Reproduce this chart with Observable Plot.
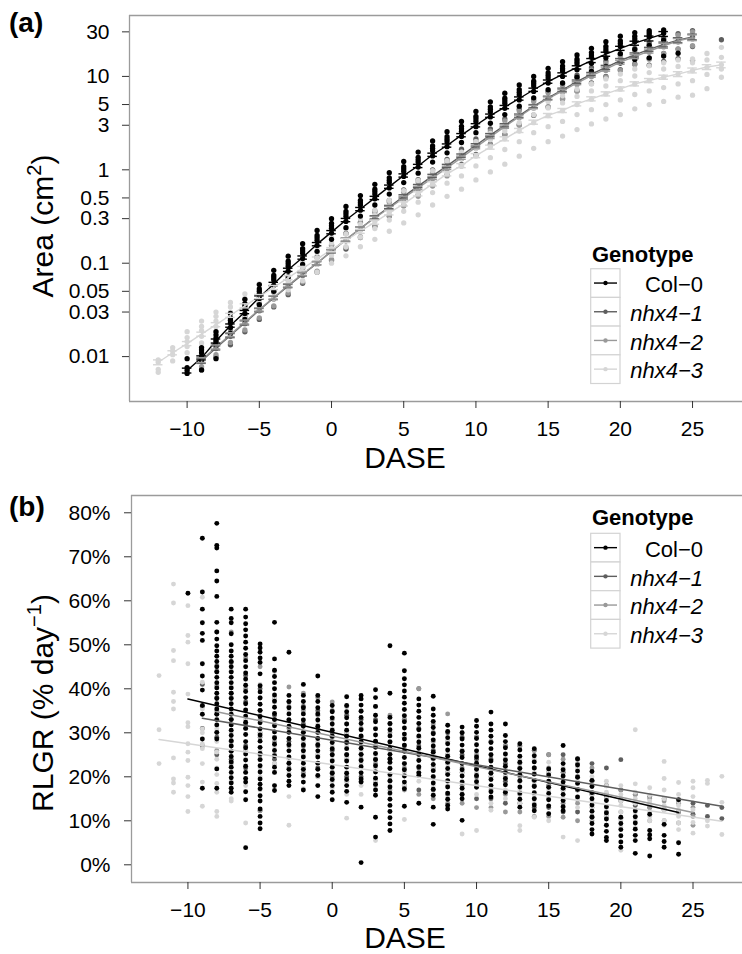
<!DOCTYPE html>
<html><head><meta charset="utf-8">
<script src="https://cdn.jsdelivr.net/npm/d3@7"></script>
<script src="https://cdn.jsdelivr.net/npm/@observablehq/plot@0.6"></script>
<style>
html,body{margin:0;padding:0;background:#fff;}
#root{position:relative;width:742px;height:954px;overflow:hidden;font-family:"Liberation Sans",Arial,sans-serif;}
#root svg{position:absolute;left:0;}
</style></head><body><div id="root"></div>
<script>
// ---------- categories / labels ----------
const genotypes = ["Col-0","nhx4-1","nhx4-2","nhx4-3"];
const genoLabels = ["Col\u22120","nhx4\u22121","nhx4\u22122","nhx4\u22123"];
const genoColors = ["#000000","#5e5e5e","#999999","#d6d6d6"];
const daseTicks = [-10,-5,0,5,10,15,20,25];
const areaTicks = [0.01,0.03,0.05,0.1,0.3,0.5,1,3,5,10,30];
const rlgrTicks = [0,10,20,30,40,50,60,70,80];

// ---------- panel (a): mean rosette area (cm2) per day ----------
const areaMeanStart = [-10,-9,-9,-12];
const areaMeanCol0 = [0.0071,0.0097,0.0147,0.0215,0.030,0.043,0.060,0.085,0.115,0.16,0.215,0.29,0.38,0.50,0.66,0.87,1.1,1.45,1.82,2.35,3.0,3.8,4.7,5.8,7.2,8.8,10.5,12.5,14.8,17.3,20.0,22.7,25.5,28.5];
const areaMeanNhx41 = [0.0090,0.0124,0.0168,0.023,0.0315,0.0425,0.057,0.076,0.10,0.134,0.178,0.235,0.31,0.40,0.52,0.67,0.86,1.1,1.42,1.83,2.35,3.0,3.8,4.8,5.9,7.2,8.8,10.6,12.5,14.8,17.0,19.5,22.0,24.5,26.5];
const areaMeanNhx42 = [0.0092,0.0127,0.0172,0.0235,0.032,0.043,0.058,0.077,0.10,0.135,0.18,0.235,0.305,0.39,0.50,0.64,0.82,1.05,1.35,1.75,2.25,2.9,3.7,4.7,5.8,7.0,8.5,10.2,12.0,14.2,16.3,18.7,21.3,24.0,26.0];
const areaMeanNhx43 = [0.0087,0.011,0.0138,0.0174,0.022,0.0277,0.035,0.044,0.055,0.070,0.088,0.111,0.14,0.175,0.22,0.275,0.346,0.432,0.553,0.708,0.906,1.11,1.42,1.75,2.15,2.64,3.24,3.82,4.32,5.09,5.76,6.51,7.36,8.33,9.04,9.82,10.6,11.6,12.6,13.3];
// standard error of the mean, % of mean
const areaSeCol0 = [6,5,5,4,4,4,4,4,4,4,4,4,4,4,4,4,4,4,4,4,4,4,4,4,4,4,4,4,5,5,5,5,6,6];
const areaSeNhx41 = [6,5,5,5,4,4,4,4,4,4,4,4,4,4,4,4,4,4,4,4,4,4,4,4,4,4,4,4,5,5,5,5,6,6,7];
const areaSeNhx42 = [6,5,5,5,4,4,4,4,4,4,4,4,4,4,4,4,4,4,4,4,4,4,4,4,4,4,4,4,5,5,5,5,6,6,7];
const areaSeNhx43 = [6,5,5,5,5,5,5,5,5,5,5,5,5,5,5,5,5,5,5,5,5,5,5,5,5,5,5,5,5,5,5,5,5,5,5,5,6,6,6,7];

// ---------- panel (a): individual plants ----------
const areaPtsStart = [-10,-9,-9,-12];
const areaPtsCol0 = [
[0.0066,0.0071,0.0076,0.0095],[0.0072,0.0092,0.0100,0.0110,0.0118,0.0125],[0.0095,0.0132,0.0148,0.0158,0.0170,0.0185],
[0.0178,0.0205,0.023,0.0245,0.026,0.029],[0.025,0.029,0.033,0.035,0.037,0.041],[0.036,0.042,0.047,0.050,0.053,0.059],
[0.050,0.058,0.066,0.070,0.074,0.084],[0.071,0.082,0.093,0.099,0.105,0.119],[0.097,0.112,0.127,0.135,0.143,0.162],
[0.134,0.155,0.176,0.187,0.198,0.224],[0.18,0.21,0.237,0.252,0.267,0.30],[0.24,0.28,0.318,0.338,0.358,0.405],
[0.32,0.37,0.42,0.445,0.47,0.53],[0.42,0.49,0.55,0.585,0.62,0.70],[0.55,0.64,0.73,0.775,0.82,0.93],
[0.73,0.85,0.96,1.02,1.08,1.23],[0.92,1.07,1.21,1.28,1.36,1.55],[1.21,1.41,1.6,1.7,1.8,2.04],
[1.52,1.77,2.0,2.13,2.26,2.56],[1.96,2.28,2.58,2.75,2.92,3.3],[2.5,2.9,3.3,3.52,3.74,4.22],
[3.15,3.68,4.18,4.45,4.72,5.35],[3.9,4.55,5.17,5.5,5.85,6.6],[4.8,5.6,6.35,6.75,7.2,8.1],
[5.9,6.9,7.9,8.4,8.9,10.0],[7.2,8.5,9.6,10.2,10.9,12.2],[8.5,10.0,11.4,12.1,12.9,14.4],
[9.8,11.8,13.6,14.4,15.3,17.0],[11.3,13.8,16.0,17.0,18.0,20.0],[12.8,15.8,18.5,19.7,21.0,23.5],
[14.0,17.5,21.0,22.5,24.0,27.0],[15.2,19.5,23.5,25.2,27.0,29.5],[15.8,21.5,26.5,28.0,29.5,31.0],
[16.5,24.5,29.0,31.5],[17.7]];
const areaPtsNhx41 = [
[0.0072,0.0088,0.0105],[0.0099,0.0122,0.0145],[0.0134,0.0165,0.0197],[0.0184,0.0225,0.027],
[0.025,0.031,0.037],[0.034,0.0415,0.05],[0.046,0.056,0.067],[0.061,0.074,0.089],
[0.08,0.098,0.117],[0.107,0.131,0.157],[0.142,0.174,0.208],[0.188,0.23,0.275],
[0.248,0.304,0.363],[0.32,0.39,0.47],[0.416,0.51,0.61],[0.536,0.656,0.784],
[0.69,0.84,1.0],[0.88,1.08,1.29],[1.14,1.39,1.66],[1.46,1.79,2.14],
[1.88,2.3,2.75],[2.4,2.94,3.5],[3.04,3.72,4.45],[3.84,4.7,5.6],
[4.7,5.8,6.9],[5.8,7.05,8.4],[7.0,8.6,10.3],[8.5,10.4,12.4],
[10.0,12.2,14.6],[11.8,14.5,17.3],[13.6,16.7,19.9],[13.2,15.6,19.1,22.8],
[14.5,17.6,21.6,25.7],[15.5,19.6,24.0,28.7],[14.8,20.9,26.5,31.0],[],[24.7]];
const areaPtsNhx42 = [
[0.0078,0.0090,0.0105],[0.0105,0.0124,0.0146],[0.0142,0.0168,0.0198],[0.0193,0.0228,0.027],
[0.026,0.031,0.037],[0.035,0.042,0.049],[0.048,0.056,0.067],[0.063,0.075,0.089],
[0.082,0.097,0.115],[0.11,0.131,0.155],[0.148,0.175,0.207],[0.193,0.228,0.27],
[0.25,0.296,0.35],[0.32,0.38,0.45],[0.41,0.485,0.575],[0.52,0.62,0.74],
[0.67,0.80,0.94],[0.86,1.02,1.21],[1.1,1.31,1.55],[1.43,1.7,2.0],
[1.85,2.18,2.6],[2.38,2.8,3.35],[3.0,3.6,4.25],[3.85,4.55,5.4],
[4.75,5.6,6.7],[5.7,6.8,8.0],[7.0,8.2,9.8],[8.4,9.9,11.7],
[9.8,11.6,13.8],[11.6,13.8,16.3],[13.4,15.8,18.7],[15.3,18.1,21.5],
[17.5,20.7,24.5],[19.7,23.3,27.6],[21.3,25.2,29.9]];
const areaPtsNhx43 = [
[0.0068,0.0073,0.0087,0.0092],[0.0090,0.0105,0.0115,0.0125],[0.011,0.0128,0.0145,0.016,0.0185],
[0.014,0.0165,0.019,0.021,0.024],[0.018,0.021,0.024,0.027,0.030],[0.022,0.026,0.030,0.034,0.038],
[0.027,0.032,0.037,0.042,0.047],[0.034,0.040,0.046,0.053,0.060],[0.042,0.050,0.058,0.066,0.075],
[0.052,0.063,0.073,0.084,0.095],[0.065,0.078,0.091,0.104,0.118],[0.080,0.097,0.114,0.130,0.148],
[0.10,0.122,0.143,0.165,0.19],[0.12,0.15,0.178,0.205,0.235],[0.15,0.19,0.225,0.26,0.30],
[0.18,0.235,0.28,0.325,0.37],[0.22,0.29,0.35,0.41,0.47],[0.27,0.36,0.44,0.52,0.60],
[0.33,0.45,0.56,0.66,0.77],[0.42,0.57,0.71,0.85,0.98],[0.52,0.72,0.91,1.08,1.25],
[0.62,0.86,1.10,1.33,1.55],[0.78,1.10,1.40,1.70,2.0],[0.95,1.35,1.75,2.10,2.45],
[1.15,1.65,2.15,2.60,3.0],[1.4,2.0,2.6,3.2,3.7],[1.7,2.5,3.2,3.9,4.6],
[2.0,2.9,3.8,4.6,5.4],[2.3,3.3,4.3,5.2,6.2],[2.7,3.9,5.0,6.1,7.3],
[3.1,4.4,5.7,7.0,8.3],[3.5,5.0,6.5,7.9,9.4],[3.9,5.6,7.3,9.0,10.6],
[4.5,6.4,8.3,10.1,12.0],[5.0,7.0,9.0,11.0,13.0],[5.4,7.6,9.8,12.0,14.0],
[6.0,8.3,10.6,12.8,15.0],[6.3,9.0,11.5,14.0,15.4],[7.4,10.5,12.5,15.0,17.6],
[9.8,12.0,13.3,16.0,20.5]];

// ---------- panel (b): RLGR (% per day) of individual plants ----------
const rlgrPtsStart = [-10,-9,-8,-12];
const rlgrPtsCol0 = [
[61.7],
[74.2,62.0,58.1,55.0,52.6,51.0,45.7,42.9,39.7,36.2,34.2,28.6,17.4],
[77.6,72.6,72.0,66.8,64.5,61.0,55.1,52.9,51.3,49.8,48.6,47.4,46.2,45.0,43.8,42.6,41.4,40.2,39.0,37.8,36.6,35.4,34.2,33.0,31.8,30.1,28.6,21.8,17.4],
[58.1,56.0,55.0,52.5,50.0,48.6,47.4,46.2,45.0,43.8,42.6,41.4,40.2,39.0,37.8,36.6,35.4,34.2,33.0,31.8,30.6,29.4,28.2,27.0,25.8,24.6,23.4,22.2,21.0,19.8,18.6,17.4,16.5],
[58.1,56.3,54.8,53.4,52.0,50.6,49.2,47.8,46.4,45.0,43.6,42.2,40.8,39.4,38.0,36.6,35.2,33.8,32.4,31.0,29.6,28.0,26.6,25.2,23.8,22.4,21.0,19.6,18.8,16.6,14.8,3.9],
[50.2,49.3,48.3,47.0,46.0,43.4,40.7,39.3,37.9,36.5,35.1,33.7,32.3,30.9,29.5,28.1,26.7,25.3,23.9,22.5,21.1,19.5,18.3,17.3,15.7,14.5,12.7,11.0,9.5,8.2],
[55.1,46.8,44.2,42.8,41.4,40.0,38.6,37.2,35.8,34.4,33.0,31.6,30.2,28.8,27.4,26.0,24.8,22.2,21.0,18.0,16.9],
[48.3,38.5,37.1,35.7,34.3,32.9,31.5,30.1,28.7,27.3,25.9,24.5,23.1,21.7,20.3,19.0,18.0],
[41.0,38.5,37.1,35.7,34.3,32.9,31.5,30.1,28.7,27.3,25.9,24.5,23.1,21.7,20.3,18.8,17.0],
[42.9,38.5,37.1,35.7,34.3,32.9,31.5,30.1,28.7,27.3,25.9,24.5,23.1,21.7,20.3,18.0,15.5],
[36.2,34.8,33.4,32.0,30.6,29.2,27.8,26.4,25.0,23.6,22.2,20.8,19.4,18.0,16.5,14.8],
[38.2,36.2,34.8,33.4,32.0,30.6,29.2,27.8,26.4,25.0,23.6,22.2,20.8,19.4,18.0,16.7,14.2],
[38.5,37.7,36.3,34.9,33.5,32.1,30.7,29.3,27.9,26.5,25.1,23.7,22.3,20.9,19.5,18.8,13.1,0.5],
[39.8,38.0,36.0,34.0,32.5,30.9,29.5,28.1,26.7,25.3,23.9,22.5,21.1,19.7,18.3,17.0,15.8,10.8,6.3],
[49.8,39.0,33.5,32.1,30.7,29.3,27.9,26.5,25.1,24.1,23.3,21.9,20.5,19.1,17.7,16.3,14.9,13.5,12.1,10.7,9.3,7.8],
[48.1,44.1,42.3,40.9,39.5,38.1,36.7,35.3,33.9,32.5,31.1,29.7,28.6,27.2,25.8,24.4,23.0,21.6,20.2,18.8,17.3,13.3],
[37.7,36.3,34.9,33.5,32.1,30.7,29.3,27.9,26.5,25.1,23.7,22.3,20.9,20.3,14.0],
[38.3,35.4,34.0,32.6,31.2,29.8,28.4,27.0,25.6,24.2,22.8,21.4,20.0,18.6,17.2,15.8,13.1,9.2],
[31.7,30.3,28.9,27.5,26.1,24.7,23.3,21.9,20.5,19.1,17.7,16.3,14.9,13.5,12.7],
[31.3,30.0,28.6,27.2,25.8,24.4,23.0,21.6,20.2,18.8,17.4,16.0,15.0,10.1],
[32.8,31.5,30.1,28.7,27.3,25.9,24.5,23.1,21.7,20.3,18.9,17.6],
[34.7,32.0,30.6,29.2,27.8,26.4,25.0,23.6,22.2,20.8,19.4,18.0,16.6,15.4],
[32.0,29.4,28.0,26.6,25.2,23.8,22.4,21.0,19.6,18.2,16.5],
[27.5,26.1,24.7,23.3,21.9,20.5,19.1,17.7,16.3,14.9,13.1],
[26.4,24.8,23.4,22.0,20.6,19.2,17.8,16.4,15.0,13.6,12.3],
[21.8,20.4,19.0,17.6,16.2,14.8,13.4,11.6],
[27.1,23.0,21.6,20.2,18.8,17.4,16.0,14.6,13.2,12.3],
[24.1,22.7,21.3,19.9,18.5,17.1,15.4],
[21.2,19.2,17.8,16.4,15.0,13.6,12.2,10.8,9.4,8.0,7.0],
[14.6,13.2,11.8,10.4,9.0,7.6,6.2,5.5],
[10.8,9.4,8.0,6.6,5.2,4.0],
[12.3,10.9,9.5,8.1,6.7,5.5,2.6],
[11.5,7.8,6.8,5.9,2.0],
[9.2,6.7,5.3,4.0],
[14.8,5.0,2.4]];
const rlgrPtsNhx41 = [
[41,36,31,27],[44,38,34.3,29,25],[46,39,33,28,24],[43,37,32,27,22],[40,35,30,25,12.3],
[38,34,29,24],[37,33,28,23],[36,32,27,22],[35,31,27,22],[35,30,26,21],
[34,30,25,20],[33,29,25,20],[33,28,24,19],[32,28,24,19],[33,27,23,18],
[40,31,27,22,17],[30,26,22,17],[30,25,21,16],[29,25,21,16],[29,24,20,15],
[28,24,20,15],[27,23,19,14],[27,22,19,14],[26,22,18,13],[25,21,18,13],
[25,21,17,12],[24,20,17,12],[23,19,16,11],[22,18,15.5,11],[23.9,17,14.5,10.5],
[16,13.5],[15.5,13],[15,12.5],[14.5,12],[14,11.5],
[13.5,11],[13,10.5]];
const rlgrPtsNhx42 = [
[52.9,45.3,40.7,35,30,26],[52.9,44,38,33,28,23],[47,40,35,31,26],[45,38,33,29,24,12.3],
[44,37,33,28,23],[40.4,36,31,27,22],[39,35,30,26,21],[38,34,30,25,20],
[37,33,29,25,20],[36,32,28,24,19],[35,31,28,24,19],[36,31,27,23,18],
[34,30,26,22,17],[33,29,26,22,17],[40,29,25,21,16],[32,28,24,20,15],
[34.3,28,23,19,14],[30,26,22,18,14],[29,25,22,18,13],[28,25,21,17,13],
[27,24,20,16,12],[27,23,20,16,12],[26,22,19,15,11],[25,22,18,15,11],
[24,21,18,14,10.8],[23,20,17,14,10],[22,19,16,13,10],[18,16,12],
[17,15,12],[16,14,11],[15,13,10],[14.5,12.5,10],
[14,12,9.5],[13,11,9]];
const rlgrPtsNhx43 = [
[43.0,30.7,23.0],
[63.8,59.5,48.7,46.4,39.2,37.1,35.4,24.3,19.5,18.6,16.5],
[58.9,52.1,50.6,45.7,38.8,32.3,31.4,27.5,25.6,23.7,19.9,18.0,15.5,12.1],
[60.8,41.5,35.4,30.9,30.0,27.5,26.4,23.0,18.8,13.3],
[36.0,30.9,28.0,25.6,24.0,22.0,20.5,18.5,16.5,12.1,11.0],
[40.5,35.0,30.0,27.0,25.8,22.0,19.0,17.5,15.0,14.5],
[42.0,33.0,28.0,26.0,24.0,22.5,21.0,18.0,9.5],
[41.0,34.0,30.0,26.0,24.0,22.0,20.0,17.0],
[38.0,32.0,27.0,25.0,23.0,21.0,18.0],
[35.0,30.0,26.0,24.0,21.0,19.0,15.5,9.0],
[33.0,28.0,25.0,22.0,20.0,17.3],
[32.0,28.0,25.0,23.0,20.0,18.0],
[31.0,27.0,24.0,22.0,19.0,17.5],
[30.0,27.0,24.0,21.0,19.0,16.0,10.6],
[29.0,26.0,23.0,21.0,18.0,16.0],
[31.0,27.0,25.0,22.0,19.0,17.0,5.5],
[28.0,26.0,23.0,20.0,18.0,16.0],
[29.0,26.0,23.0,21.0,18.0,10.3],
[29.0,26.0,24.0,21.0,19.0,14.0],
[27.0,25.0,22.0,20.0,18.0,16.0],
[28.0,25.0,23.0,21.0,18.0,15.0],
[26.0,23.0,21.0,19.0,17.0,7.0],
[26.0,23.0,21.0,19.0,16.0,7.8],
[25.0,22.0,20.0,18.0,14.0,12.4],
[25.0,22.0,20.0,17.0,15.0],
[24.0,22.0,19.0,17.0,14.0,8.9,7.8],
[24.0,21.0,19.0,16.0,14.0,10.8],
[23.3,21.0,19.0,17.0,15.0,10.0],
[22.0,20.0,17.0,15.0,13.0,6.3],
[22.0,19.0,17.0,15.0,13.0,5.5],
[20.0,18.0,16.0,14.5,13.1,12.0,10.5],
[19.0,17.9,16.5,15.0,13.0,11.0,9.0],
[18.0,16.0,14.5,13.5,12.0,10.0,8.5,3.3],
[30.7,18.4,16.5,15.0,14.0,12.0,10.0,8.5],
[17.5,15.8,14.5,14.0,12.0,11.0,10.0],
[23.5,19.6,17.0,15.0,13.5,12.4,10.0,9.0],
[18.7,16.0,14.5,13.5,12.5,11.0,9.5,8.0],
[19.0,17.5,15.5,12.5,9.6,7.2],
[19.2,18.5,10.0,8.8],
[20.1,14.2,6.9]];

// ---------- panel (b): fitted linear trends ----------
const fitX0 = [-10,-9,-8,-12];
const fitX1 = [24,27,25,27];
const fitY0 = [37.7,33.3,34.8,28.5];
const fitY1 = [11.9,13.3,11.9,9.9];

// ---------- build tables ----------
function flat(lists, starts, order){
  const rows = [];
  order.forEach(gi => lists[gi].forEach((vals, k) => vals.forEach(v => rows.push({g: genotypes[gi], d: starts[gi] + k, v}))));
  return rows;
}
const drawOrder = [1,2,3,0];
const areaPtsList = [areaPtsCol0, areaPtsNhx41, areaPtsNhx42, areaPtsNhx43];
const areaMeanList = [areaMeanCol0, areaMeanNhx41, areaMeanNhx42, areaMeanNhx43];
const areaSeList = [areaSeCol0, areaSeNhx41, areaSeNhx42, areaSeNhx43];
const rlgrPtsList = [rlgrPtsCol0, rlgrPtsNhx41, rlgrPtsNhx42, rlgrPtsNhx43];

const areaRows = flat(areaPtsList, areaPtsStart, drawOrder);
const rlgrRows = flat(rlgrPtsList, rlgrPtsStart, drawOrder);
const meanRows = [], errRows = [];
genotypes.forEach((g, gi) => {
  areaMeanList[gi].forEach((m, k) => {
    const d = areaMeanStart[gi] + k;
    const se = m * areaSeList[gi][k] / 100;
    meanRows.push({g, d, v: m});
    errRows.push({g, d, x1: d - 0.33, x2: d + 0.33, lo: m - se, hi: m + se});
  });
});
const fitRows = [];
genotypes.forEach((g, gi) => {
  fitRows.push({g, d: fitX0[gi], v: fitY0[gi]});
  fitRows.push({g, d: fitX1[gi], v: fitY1[gi]});
});

// ---------- plots ----------
const FONT = "'Liberation Sans', Arial, Helvetica, sans-serif";
const fmtDase = d => d < 0 ? "\u2212" + (-d) : String(d);
const frameColor = "#9b9b9b";
const root = document.getElementById("root");

const xA = [-13.99, 28.46], yA = [0.003306, 44.9];
const tickDaysA = 7 / 14.44; // 7px tick length expressed in days
const plotA = Plot.plot({
  width: 742, height: 440, marginLeft: 129, marginRight: 0, marginTop: 15, marginBottom: 39,
  style: {fontFamily: FONT, fontSize: "21px", color: "#000", background: "transparent", overflow: "visible"},
  x: {domain: xA}, y: {type: "log", domain: yA, axis: null},
  color: {type: "ordinal", domain: genotypes, range: genoColors},
  marks: [
    Plot.dot(areaRows, {x: "d", y: "v", fill: "g", r: 2.65}),
    Plot.line(meanRows, {x: "d", y: "v", stroke: "g", z: "g", strokeWidth: 1.4}),
    Plot.ruleX(errRows, {x: "d", y1: "lo", y2: "hi", stroke: "g", strokeWidth: 1.3}),
    Plot.ruleY(errRows, {y: "lo", x1: "x1", x2: "x2", stroke: "g", strokeWidth: 1.4}),
    Plot.ruleY(errRows, {y: "hi", x1: "x1", x2: "x2", stroke: "g", strokeWidth: 1.4}),
    Plot.ruleX([xA[0]], {stroke: frameColor, strokeWidth: 1.3}),
    Plot.ruleY([yA[0], yA[1]], {stroke: frameColor, strokeWidth: 1.3}),
    Plot.axisX({ticks: daseTicks, tickSize: 7, tickPadding: 13, tickFormat: fmtDase, label: null, stroke: "#333", fill: "#000"}),
    // y ticks and labels of the log axis (every tick labelled, as in the reference)
    Plot.ruleY(areaTicks, {y: d => d, x1: xA[0] - tickDaysA, x2: xA[0], stroke: "#333", strokeWidth: 1}),
    Plot.text(areaTicks, {y: d => d, x: xA[0], text: d => String(d), dx: -20, textAnchor: "end", fill: "#000"})
  ]
});
plotA.style.top = "0px";
root.appendChild(plotA);

const xB = [-13.91, 28.43], yB = [-4.02, 83.93];
const plotB = Plot.plot({
  width: 742, height: 455, marginLeft: 131, marginRight: 0, marginTop: 25, marginBottom: 43,
  style: {fontFamily: FONT, fontSize: "21px", color: "#000", background: "transparent", overflow: "visible"},
  x: {domain: xB}, y: {domain: yB},
  color: {type: "ordinal", domain: genotypes, range: genoColors},
  marks: [
    Plot.dot(rlgrRows, {x: "d", y: "v", fill: "g", r: 2.45}),
    Plot.line(fitRows, {x: "d", y: "v", stroke: "g", z: "g", strokeWidth: 1.5}),
    Plot.ruleX([xB[0]], {stroke: frameColor, strokeWidth: 1.3}),
    Plot.ruleY([yB[0], yB[1]], {stroke: frameColor, strokeWidth: 1.3}),
    Plot.axisX({ticks: daseTicks, tickSize: 7, tickPadding: 13, tickFormat: fmtDase, label: null, stroke: "#333", fill: "#000"}),
    Plot.axisY({ticks: rlgrTicks, tickSize: 7, tickPadding: 14, tickFormat: d => d + "%", label: null, stroke: "#333", fill: "#000"})
  ]
});
plotB.style.top = "470px";
root.appendChild(plotB);

// ---------- text overlay: panel tags, axis titles, legends ----------
const ov = d3.create("svg").attr("width", 742).attr("height", 954)
  .style("top", "0px").style("pointer-events", "none")
  .attr("font-family", FONT).attr("fill", "#000");
ov.append("text").attr("x", 9).attr("y", 32).attr("font-size", 28).attr("font-weight", "bold").text("(a)");
ov.append("text").attr("x", 9).attr("y", 516).attr("font-size", 28).attr("font-weight", "bold").text("(b)");
ov.append("text").attr("x", 405).attr("y", 468).attr("font-size", 30).attr("text-anchor", "middle").text("DASE");
ov.append("text").attr("x", 405).attr("y", 948).attr("font-size", 30).attr("text-anchor", "middle").text("DASE");

const ta = ov.append("text").attr("transform", "translate(53,226) rotate(-90)").attr("text-anchor", "middle").attr("font-size", 30);
ta.append("tspan").text("Area (cm");
ta.append("tspan").attr("font-size", 20).attr("dy", -12).text("2");
ta.append("tspan").attr("dy", 12).text(")");
const tb = ov.append("text").attr("transform", "translate(53,703) rotate(-90)").attr("text-anchor", "middle").attr("font-size", 30);
tb.append("tspan").text("RLGR (% day");
tb.append("tspan").attr("font-size", 20).attr("dy", -12).text("\u22121");
tb.append("tspan").attr("dy", 12).text(")");

function legend(titleBase, keyTop){
  ov.append("text").attr("x", 592).attr("y", titleBase).attr("font-size", 22).attr("font-weight", "bold").text("Genotype");
  genotypes.forEach((g, i) => {
    const y0 = keyTop + i * 28.7, cy = y0 + 14.35;
    ov.append("rect").attr("x", 590.7).attr("y", y0).attr("width", 29.3).attr("height", 28.7)
      .attr("fill", "#fff").attr("stroke", "#d3d3d3").attr("stroke-width", 1.2);
    ov.append("line").attr("x1", 594).attr("x2", 617).attr("y1", cy).attr("y2", cy)
      .attr("stroke", genoColors[i]).attr("stroke-width", 1.4);
    ov.append("circle").attr("cx", 605.5).attr("cy", cy).attr("r", 2.2).attr("fill", genoColors[i]);
    ov.append("text").attr("x", 703).attr("y", y0 + 23.5).attr("text-anchor", "end").attr("font-size", 22)
      .attr("font-style", i ? "italic" : "normal").text(genoLabels[i]);
  });
}
legend(262, 268.7);
legend(525, 533.3);
root.appendChild(ov.node());
</script></body></html>
